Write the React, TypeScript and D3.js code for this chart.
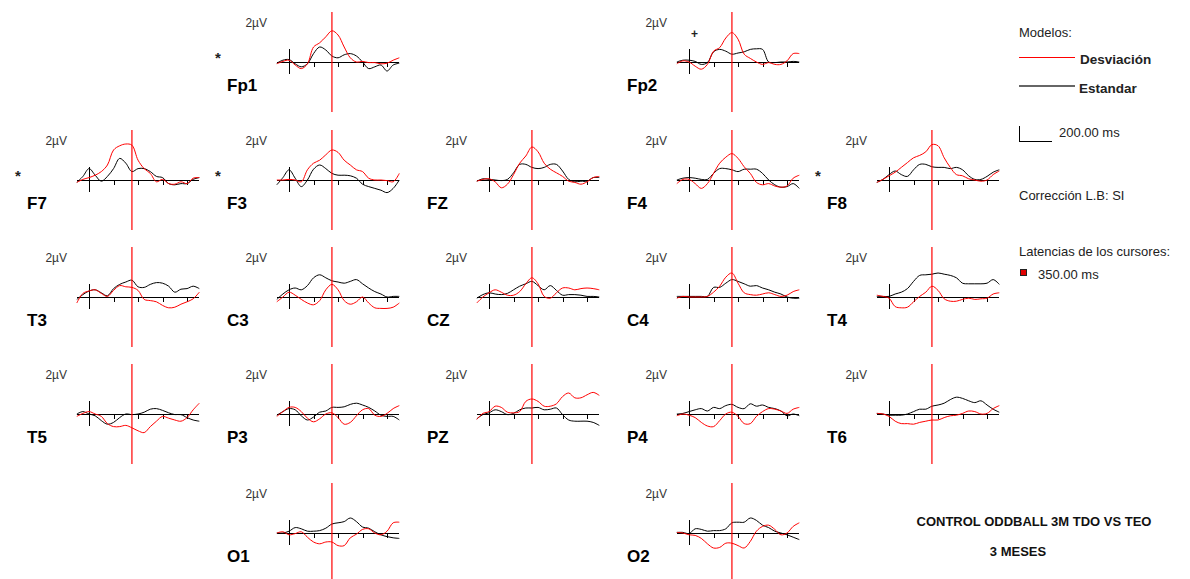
import React from "react";
import * as d3 from "d3";

// ---- Data (µV), sampled every 50 ms from -100 to 900 ms ----
const TIMES_MS = [-100, -50, 0, 50, 100, 150, 200, 250, 300, 350, 400, 450, 500, 550, 600, 650, 700, 750, 800, 850, 900];
const TICKS_MS = [200, 400, 600, 800];
const CURSOR_MS = 350;

const fp1Desv = [-0.3, 0.1, 0.3, -0.5, -1.1, -0.3, 2.5, 3.2, 4.2, 5.2, 4.5, 2.5, 0.7, 0, 0.1, -0.1, -0.1, -0.3, -0.2, 0.3, 0.7];
const fp1Std = [-0.2, 0.3, 0.4, -0.3, -0.8, -0.3, 1.4, 2.5, 2, 1, 0.7, 1.2, 1.4, 1, 0, -1.1, -0.8, -0.5, -1.5, -0.5, -0.2];
const fp2Desv = [-0.3, 0.2, 0, -0.7, -1.2, -0.4, 1.8, 2.4, 4, 4.9, 3.8, 1.3, 0.6, 0, -0.4, -0.1, -0.4, -0.4, 0.2, 1.4, 1.4];
const fp2Std = [0, 0.3, 0.3, 0.1, -0.4, -0.1, 1.7, 2.1, 1.8, 1.3, 1.5, 1.7, 2.1, 2.2, 2.1, 0, -0.1, 0, 0, 0.1, 0];
const f7Desv = [-0.4, 0.1, 0.4, 0.8, 1.4, 2.5, 5, 5.7, 6, 5.8, 3.3, 1.9, 1.1, -0.3, 0.1, -0.6, -0.7, -0.3, -0.6, 0.3, 0.4];
const f7Std = [-0.4, 0.6, 1.9, 0.8, -0.2, 0.6, 1.9, 3.6, 2.8, 1.4, 1.9, 1.9, 1.4, 0.6, 0.4, -0.6, -0.8, -0.6, -0.6, 0.1, 0.4];
const f3Desv = [0, 0, 0.1, 0, -0.3, 1.7, 2.8, 3.3, 4.2, 5, 4.6, 3.3, 2.5, 1.7, 1.4, 0.3, 0, 0, -0.1, -0.3, 1.1];
const f3Std = [-0.8, 0.4, 1.7, 0.3, -1.1, 0, 1.8, 2.5, 1.9, 1.1, 0.8, 0.8, 0.7, 0.3, -0.7, -1.1, -1.4, -1.7, -2.1, -1.4, 0];
const fzDesv = [-0.2, 0.1, 0.2, -0.3, -1.3, -0.7, 0.9, 2.8, 4, 5.5, 4.7, 2.8, 1.8, 1.2, 0.6, -0.2, -0.4, -0.7, -0.3, 0.4, 0.6];
const fzStd = [-0.2, 0.2, 0.1, 0, -0.1, 0.1, 1.2, 2.6, 2.6, 2.1, 1.9, 2.1, 2.6, 2.6, 1.5, 0.1, -0.3, -0.2, -0.2, 0.4, 0.4];
const f4Desv = [-0.6, 0.1, 0.1, -0.6, -1.4, -0.6, 1.1, 2.8, 3.8, 4.4, 3.6, 2.2, 1.1, -0.4, -0.8, -0.6, -1, -1.2, -1, 0.3, 0.8];
const f4Std = [0, 0.3, 0.4, 0.3, 0.1, 0.1, 1.1, 1.9, 1.9, 1.7, 1.4, 1.8, 1.8, 1.8, 1.1, 0, -0.8, -1.2, -1.1, -0.6, -1.4];
const f8Desv = [-0.4, 0.1, 0.7, 1.3, 2.1, 2.9, 3.7, 4.1, 4.7, 5.9, 5.7, 3.7, 2.1, 0.9, 0.7, 0.2, 0, -0.2, 0, 0.9, 1.5];
const f8Std = [-0.4, 0.1, 0.9, 1.5, 0.9, 0.6, 1.7, 2.6, 2.6, 2.2, 2.1, 2.1, 1.9, 2.1, 1.7, 0.7, 0.1, 0.1, 0.6, 1.3, 1.7];
const t3Desv = [-1, 0.6, 1, 1.2, 0.6, 0.1, 1.1, 1.9, 1.7, 1.6, 1.1, -0.4, -0.6, -0.8, -1.4, -1.8, -1.7, -1.2, -0.8, -0.3, 0.8];
const t3Std = [-0.4, 0.4, 1, 1.2, 0.7, 0.2, 1.4, 2.1, 2.5, 2.8, 1.7, 1.6, 2.1, 2.4, 2.3, 1.8, 0.8, 1.3, 1.4, 1.8, 1.4];
const c3Desv = [-0.8, 0, 0.8, 0.3, -0.4, -1, -1.3, -0.6, 1.2, 2.1, 1.2, -0.6, -1.2, -0.8, 0, -1, -1.8, -1.9, -1.9, -1.7, -1];
const c3Std = [-0.4, 0.5, 1.2, 1.5, 1.2, 1.9, 3.2, 3.7, 3.2, 2.7, 2.5, 2.3, 2.6, 2.9, 2.2, 1.5, 0.9, 0.5, 0, 0.1, 0.1];
const czDesv = [-1, 0, 0.7, 1.2, 0.8, 0.3, 0.3, 0.9, 2.2, 3.2, 2.2, 0.1, -0.2, 0.7, 1.5, 1.5, 1.2, 1.4, 1.5, 1.4, 1.2];
const czStd = [-0.2, 0.4, 0.7, 0.5, 0.4, 0.6, 1.2, 1.8, 2.2, 2.6, 1.9, 1.2, 1.9, 1.1, 0.3, 0.4, 0.4, 0.3, 0.1, 0.1, 0];
const c4Desv = [-0.2, 0.1, 0, 0, 0, 0.1, 0.8, 1.8, 3.3, 4, 2.3, 0.7, 0.4, 0.3, 0.5, 0.7, 0.4, 0.1, 0.3, 0.9, 1.2];
const c4Std = [0.1, 0.1, 0.1, 0.1, 0.1, 0.1, 1.6, 1.6, 2.3, 2.9, 2.6, 2.2, 1.8, 1.9, 1.5, 1.2, 0.8, 0.5, 0, -0.2, -0.2];
const t4Desv = [0.3, 0.1, -0.2, -1.6, -1.8, -1.7, -0.8, 0.1, 0.8, 1.8, 1.1, -0.3, -0.7, -0.7, -0.4, -0.2, -0.4, -0.3, -0.2, 0.5, 0.7];
const t4Std = [0.1, 0.1, 0.1, 0.5, 0.8, 1.4, 2.6, 3.6, 3.7, 3.8, 4, 3.8, 3.6, 3.2, 2.3, 2.2, 2.2, 2.2, 2.3, 2.9, 2.1];
const t5Desv = [-0.4, 0.1, 0.4, 0, -0.4, -1.6, -2.1, -2.1, -1.9, -2.3, -2.8, -3.1, -2.1, -1.2, -0.4, -0.7, -1, -1.2, -0.6, 0.7, 1.8];
const t5Std = [0, 0.4, 0, -0.3, -1.1, -1.7, -1.4, -0.6, 0, -0.1, 0, 0.3, 0.8, 0.9, 0.6, 0.2, -0.1, -0.1, -0.6, -1, -1.2];
const p3Desv = [-0.4, 0.4, 1.1, 1.1, 0.4, -0.7, -1.3, -0.8, 0, 0.2, -0.6, -1.7, -1.4, -0.3, 0.7, 0.9, -0.2, -0.4, 0.1, 0.9, 1.4];
const p3Std = [-0.2, 0.4, 0.9, 0.7, -0.3, -1, -0.5, 0.3, 0.5, 1.1, 1.1, 1.2, 1.6, 1.8, 1.5, 1.1, 0.5, -0.2, -0.4, -0.4, -1];
const pzDesv = [-0.9, 0.1, 0.4, 1.3, 1.1, 0.3, 0.2, 0.4, 2.1, 2.5, 2.1, 1.3, 1.3, 1.7, 2.9, 3.5, 2.7, 2.7, 3.2, 3.6, 3.1];
const pzStd = [-0.8, -0.1, 0.2, 0.7, 0.4, -0.1, 0.1, 0.7, 1, 1, 1.1, 0.7, 0.8, 1, -0.1, -1, -1.2, -1.2, -1.2, -1.4, -1.9];
const p4Desv = [-0.3, 0, -0.2, -0.6, -1.4, -2, -2.1, -1.1, 0, 0.3, -0.4, -1.6, -1.6, -0.4, 0.4, 0.9, 0.8, 0.5, 0.1, 0.8, 1.1];
const p4Std = [0, 0.1, 0.4, 0.7, 0.9, 0.5, 1.1, 0.9, 1.4, 1.6, 1.1, 0.9, 1.7, 1.3, 1.5, 1.1, 0.9, 0.5, -0.3, 0, -0.3];
const t6Desv = [0.1, 0, -0.4, -1.2, -1.6, -1.6, -1.7, -1.4, -1.2, -1, -1, -0.6, -0.3, -0.2, 0.1, 0.5, 0.4, 0, 0.1, 0.9, 1.4];
const t6Std = [0.1, 0, -0.2, -0.2, -0.2, 0, 0.4, 0.8, 0.8, 1.3, 1.5, 1.8, 2.4, 2.8, 2.6, 2.2, 1.9, 2.2, 1.5, 0.8, 0.3];
const o1Desv = [0, 0.2, -0.3, -0.1, 0.2, -0.7, -1.5, -1.8, -1.5, -1.5, -2.1, -2.1, -0.8, -0.2, 0.6, 0.7, 0, -0.3, 0.3, 1.7, 1.8];
const o1Std = [0, 0, 0.3, 0.9, 0.7, 0.3, 0.3, 0.4, 0.8, 1.5, 1.7, 1.9, 2.5, 1.9, 1, 0.8, 0.2, -0.3, -0.6, -0.8, -0.9];
const o2Desv = [0.1, 0, -0.3, -0.4, -0.9, -1.8, -2.5, -2.4, -1.7, -1.7, -2.1, -2.5, -1.4, 0.3, 1.1, 1.3, 0.6, -0.3, 0, 1.1, 1.7];
const o2Std = [0.1, 0.1, -0.1, 0.7, 0.6, 0.3, 0.4, 0.4, 0.7, 1.7, 1.8, 1.8, 2.5, 2.1, 1.3, 0.9, 0.3, 0, -0.3, -0.7, -1.1];

const CHANNEL_NAMES = ["Fp1", "Fp2", "F7", "F3", "FZ", "F4", "F8", "T3", "C3", "CZ", "C4", "T4", "T5", "P3", "PZ", "P4", "T6", "O1", "O2"];
const DESV_SERIES = [fp1Desv, fp2Desv, f7Desv, f3Desv, fzDesv, f4Desv, f8Desv, t3Desv, c3Desv, czDesv, c4Desv, t4Desv, t5Desv, p3Desv, pzDesv, p4Desv, t6Desv, o1Desv, o2Desv];
const STD_SERIES = [fp1Std, fp2Std, f7Std, f3Std, fzStd, f4Std, f8Std, t3Std, c3Std, czStd, c4Std, t4Std, t5Std, p3Std, pzStd, p4Std, t6Std, o1Std, o2Std];
const STAR_CHANNELS = ["Fp1", "F7", "F3", "F8"];
const PLUS_CHANNELS = ["Fp2"];

// layout (grid row / column of each channel)
const GRID_ROW = [0, 0, 1, 1, 1, 1, 1, 2, 2, 2, 2, 2, 3, 3, 3, 3, 3, 4, 4];
const GRID_COL = [1, 3, 0, 1, 2, 3, 4, 0, 1, 2, 3, 4, 0, 1, 2, 3, 4, 1, 3];
const ROW_BASE = [62, 180, 297, 414, 533];

const W = 1190;
const H = 579;
const FONT = "Arial, 'Liberation Sans', sans-serif";

function Panel({ idx }: { idx: number }) {
  const name = CHANNEL_NAMES[idx];
  const x0 = 89 + 200 * GRID_COL[idx];
  const B = ROW_BASE[GRID_ROW[idx]];
  const x = d3.scaleLinear().domain([-100, 900]).range([x0 - 12.2, x0 + 110.3]);
  const y = d3.scaleLinear().domain([-8, 8]).range([B + 48, B - 48]);
  const line = d3
    .line<number>()
    .x((_, i) => x(TIMES_MS[i]))
    .y((v) => y(v))
    .curve(d3.curveCatmullRom.alpha(0.5));
  const xa = Math.round(x(0)) + 0.5;
  const yb = Math.round(B) + 0.5;
  const xc = x(CURSOR_MS);
  return (
    <g>
      <text x={x0 - 22} y={B - 35} fontSize={12} fill="#333" textAnchor="end" fontFamily={FONT}>
        2µV
      </text>
      <text x={x0 - 62} y={B + 29} fontSize={17} fontWeight="bold" fill="#000" fontFamily={FONT}>
        {name}
      </text>
      {STAR_CHANNELS.includes(name) && (
        <text x={x0 - 74} y={B + 1} fontSize={15} fontWeight="bold" fill="#222" fontFamily={FONT}>
          *
        </text>
      )}
      {PLUS_CHANNELS.includes(name) && (
        <text x={x0 + 2} y={B - 24} fontSize={12} fontWeight="bold" fill="#222" fontFamily={FONT}>
          +
        </text>
      )}
      {/* axes */}
      <line x1={x(-100)} x2={x(900)} y1={yb} y2={yb} stroke="#000" strokeWidth={1} shapeRendering="crispEdges" />
      <line x1={xa} x2={xa} y1={B - 13} y2={B + 12} stroke="#000" strokeWidth={1} shapeRendering="crispEdges" />
      {TICKS_MS.map((t) => (
        <line key={t} x1={Math.round(x(t)) + 0.5} x2={Math.round(x(t)) + 0.5} y1={yb} y2={yb + 4} stroke="#000" strokeWidth={1} shapeRendering="crispEdges" />
      ))}
      {/* traces */}
      <path d={line(STD_SERIES[idx]) || ""} fill="none" stroke="#000" strokeWidth={1} />
      <path d={line(DESV_SERIES[idx]) || ""} fill="none" stroke="#ff0000" strokeWidth={1} />
      {/* cursor */}
      <line x1={xc} x2={xc} y1={B - 50} y2={B + 50} stroke="#ff0000" strokeWidth={1.2} />
    </g>
  );
}

export default function App() {
  return (
    <svg
      width={W}
      height={H}
      style={{ position: "absolute", left: 0, top: 0, background: "#fff" }}
      fontFamily={FONT}
    >
      <rect x={0} y={0} width={W} height={H} fill="#fff" />
      {CHANNEL_NAMES.map((_, i) => (
        <Panel key={i} idx={i} />
      ))}
      {/* legend */}
      <text x={1019} y={37} fontSize={13} fill="#222">Modelos:</text>
      <line x1={1019} x2={1075} y1={57.5} y2={57.5} stroke="#ff0000" strokeWidth={1} />
      <text x={1080} y={64} fontSize={13.5} fontWeight="bold" fill="#222">Desviación</text>
      <line x1={1019} x2={1075} y1={86} y2={86} stroke="#333" strokeWidth={1.5} />
      <text x={1079} y={93} fontSize={13.5} fontWeight="bold" fill="#222">Estandar</text>
      <path d="M1019.5,126 V141.5 H1052" fill="none" stroke="#000" strokeWidth={1} shapeRendering="crispEdges" />
      <text x={1059} y={137} fontSize={13} fill="#222">200.00 ms</text>
      <text x={1019} y={200} fontSize={13} fill="#222">Corrección L.B: SI</text>
      <text x={1019} y={256} fontSize={13} fill="#222">Latencias de los cursores:</text>
      <rect x={1020.5} y={269.5} width={6} height={6} fill="#e00000" stroke="#222" strokeWidth={1} />
      <text x={1038} y={279} fontSize={13} fill="#222">350.00 ms</text>
      <text x={1034} y={526} fontSize={13} fontWeight="bold" fill="#111" textAnchor="middle">CONTROL ODDBALL 3M TDO VS TEO</text>
      <text x={1018} y={556} fontSize={13} fontWeight="bold" fill="#111" textAnchor="middle">3 MESES</text>
    </svg>
  );
}
